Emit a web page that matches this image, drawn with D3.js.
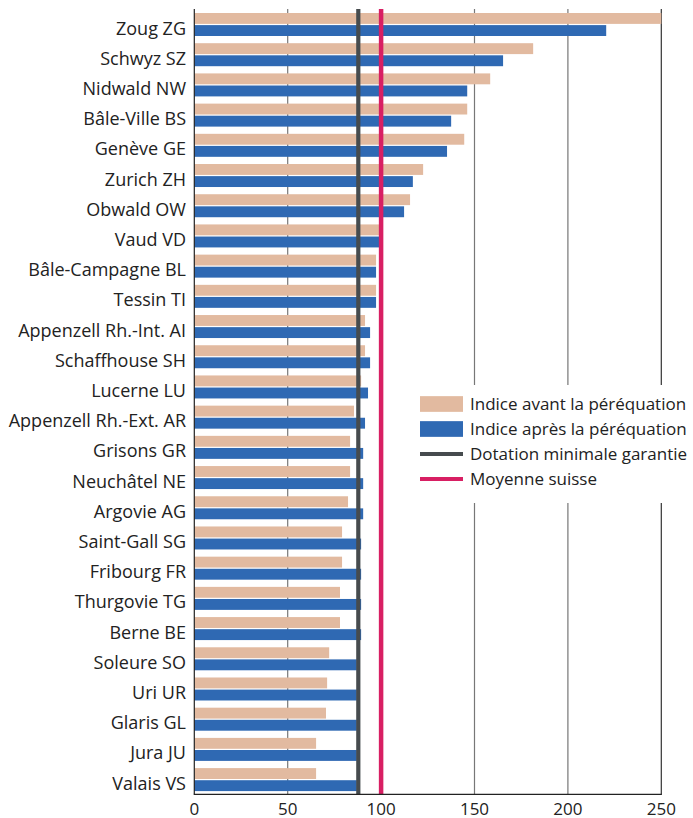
<!DOCTYPE html>
<html>
<head>
<meta charset="utf-8">
<script src="https://cdn.jsdelivr.net/npm/d3@7"></script>
<style>
  body { margin: 0; background: #fff; }
  text { font-family: "Open Sans", "Noto Sans", sans-serif; fill: #222; }
</style>
</head>
<body>
<div id="chart"></div>
<script>
// cantons, top to bottom
const cantons = ["Zoug ZG", "Schwyz SZ", "Nidwald NW", "Bâle-Ville BS", "Genève GE", "Zurich ZH",
  "Obwald OW", "Vaud VD", "Bâle-Campagne BL", "Tessin TI", "Appenzell Rh.-Int. AI", "Schaffhouse SH",
  "Lucerne LU", "Appenzell Rh.-Ext. AR", "Grisons GR", "Neuchâtel NE", "Argovie AG", "Saint-Gall SG",
  "Fribourg FR", "Thurgovie TG", "Berne BE", "Soleure SO", "Uri UR", "Glaris GL", "Jura JU", "Valais VS"];
const avant = [250.5, 181.4, 158.4, 146.1, 144.5, 122.5, 115.5, 98.9, 97.3, 97.3, 91.4, 91.4,
  89.3, 85.5, 83.4, 83.4, 82.3, 79.1, 79.1, 78.0, 78.0, 72.2, 71.1, 70.5, 65.2, 65.2];
const apres = [220.5, 165.3, 146.1, 137.5, 135.3, 117.0, 112.3, 99.1, 97.3, 97.3, 94.1, 94.1,
  93.0, 91.4, 90.4, 90.4, 90.4, 89.3, 89.3, 89.3, 89.3, 87, 87, 87, 87, 87];
const dotationMin = 87.8;
const moyenne = 100;
const xTicks = [0, 50, 100, 150, 200, 250];
const legendItems = ["Indice avant la péréquation", "Indice après la péréquation",
  "Dotation minimale garantie", "Moyenne suisse"];

const w = 693, h = 818;
const mLeft = 194.3, mRight = 661.3, mTop = 9, mBottom = 794.3;
const colTan = "#e2baa0", colBlue = "#2f69b3", colDark = "#464b4e", colPink = "#d81f63";

const svg = d3.select("#chart").append("svg")
  .attr("width", w).attr("height", h);

const x = d3.scaleLinear().domain([0, 250]).range([mLeft, mRight]).clamp(true);
const y = d3.scaleBand().domain(cantons).range([mTop, mBottom]);
const sub = d3.scaleBand().domain(["avant", "apres"]).range([4, 27]).paddingInner(0.1);

const rows = cantons.map((c, i) => ({ name: c, avant: avant[i], apres: apres[i] }));

// gridlines
svg.selectAll("line.grid")
  .data(xTicks.slice(1))
  .enter().append("line")
  .attr("class", "grid")
  .attr("x1", d => x(d)).attr("x2", d => x(d))
  .attr("y1", mTop).attr("y2", mBottom)
  .style("stroke", d => d === 250 ? "#333" : "#777")
  .style("stroke-width", 1.2);

// bars
const g = svg.selectAll("g.row")
  .data(rows)
  .enter().append("g")
  .attr("class", "row")
  .attr("transform", d => `translate(0,${y(d.name)})`);

g.append("rect")
  .attr("x", x(0)).attr("y", sub("avant"))
  .attr("width", d => x(d.avant) - x(0))
  .attr("height", sub.bandwidth())
  .style("fill", colTan);

g.append("rect")
  .attr("x", x(0)).attr("y", sub("apres"))
  .attr("width", d => x(d.apres) - x(0))
  .attr("height", sub.bandwidth())
  .style("fill", colBlue);

g.append("text")
  .attr("x", 186).attr("y", 25.5)
  .attr("text-anchor", "end")
  .style("font-size", "18px")
  .text(d => d.name);

// reference lines
svg.append("line")
  .attr("x1", x(dotationMin)).attr("x2", x(dotationMin))
  .attr("y1", mTop).attr("y2", mBottom)
  .style("stroke", colDark).style("stroke-width", 4.2);
svg.append("line")
  .attr("x1", x(moyenne)).attr("x2", x(moyenne))
  .attr("y1", mTop).attr("y2", mBottom)
  .style("stroke", colPink).style("stroke-width", 4.5);

// axes lines
svg.append("line")
  .attr("x1", x(0)).attr("x2", x(0)).attr("y1", mTop).attr("y2", mBottom)
  .style("stroke", "#222").style("stroke-width", 1.2);
svg.append("line")
  .attr("x1", x(0) - 0.6).attr("x2", x(250) + 0.6).attr("y1", mBottom).attr("y2", mBottom)
  .style("stroke", "#222").style("stroke-width", 1.2);

svg.selectAll("text.tick")
  .data(xTicks)
  .enter().append("text")
  .attr("class", "tick")
  .attr("x", d => x(d)).attr("y", 815)
  .attr("text-anchor", "middle")
  .style("font-size", "17px")
  .text(d => d);

// legend
const lg = svg.append("g");
lg.append("rect")
  .attr("x", 412).attr("y", 385).attr("width", 281).attr("height", 118)
  .style("fill", "#fff");
const ly = d3.scalePoint().domain(legendItems).range([404, 479]);
const legendColors = [colTan, colBlue, colDark, colPink];
const legendH = [15.7, 15.7, 4, 4];
lg.selectAll("rect.sw")
  .data(legendItems)
  .enter().append("rect")
  .attr("class", "sw")
  .attr("x", 420).attr("width", 43)
  .attr("y", (d, i) => ly(d) - legendH[i] / 2)
  .attr("height", (d, i) => legendH[i])
  .style("fill", (d, i) => legendColors[i]);
lg.selectAll("text.lt")
  .data(legendItems)
  .enter().append("text")
  .attr("class", "lt")
  .attr("x", 470).attr("y", d => ly(d) + 6)
  .style("font-size", "17px")
  .text(d => d);
</script>
</body>
</html>
